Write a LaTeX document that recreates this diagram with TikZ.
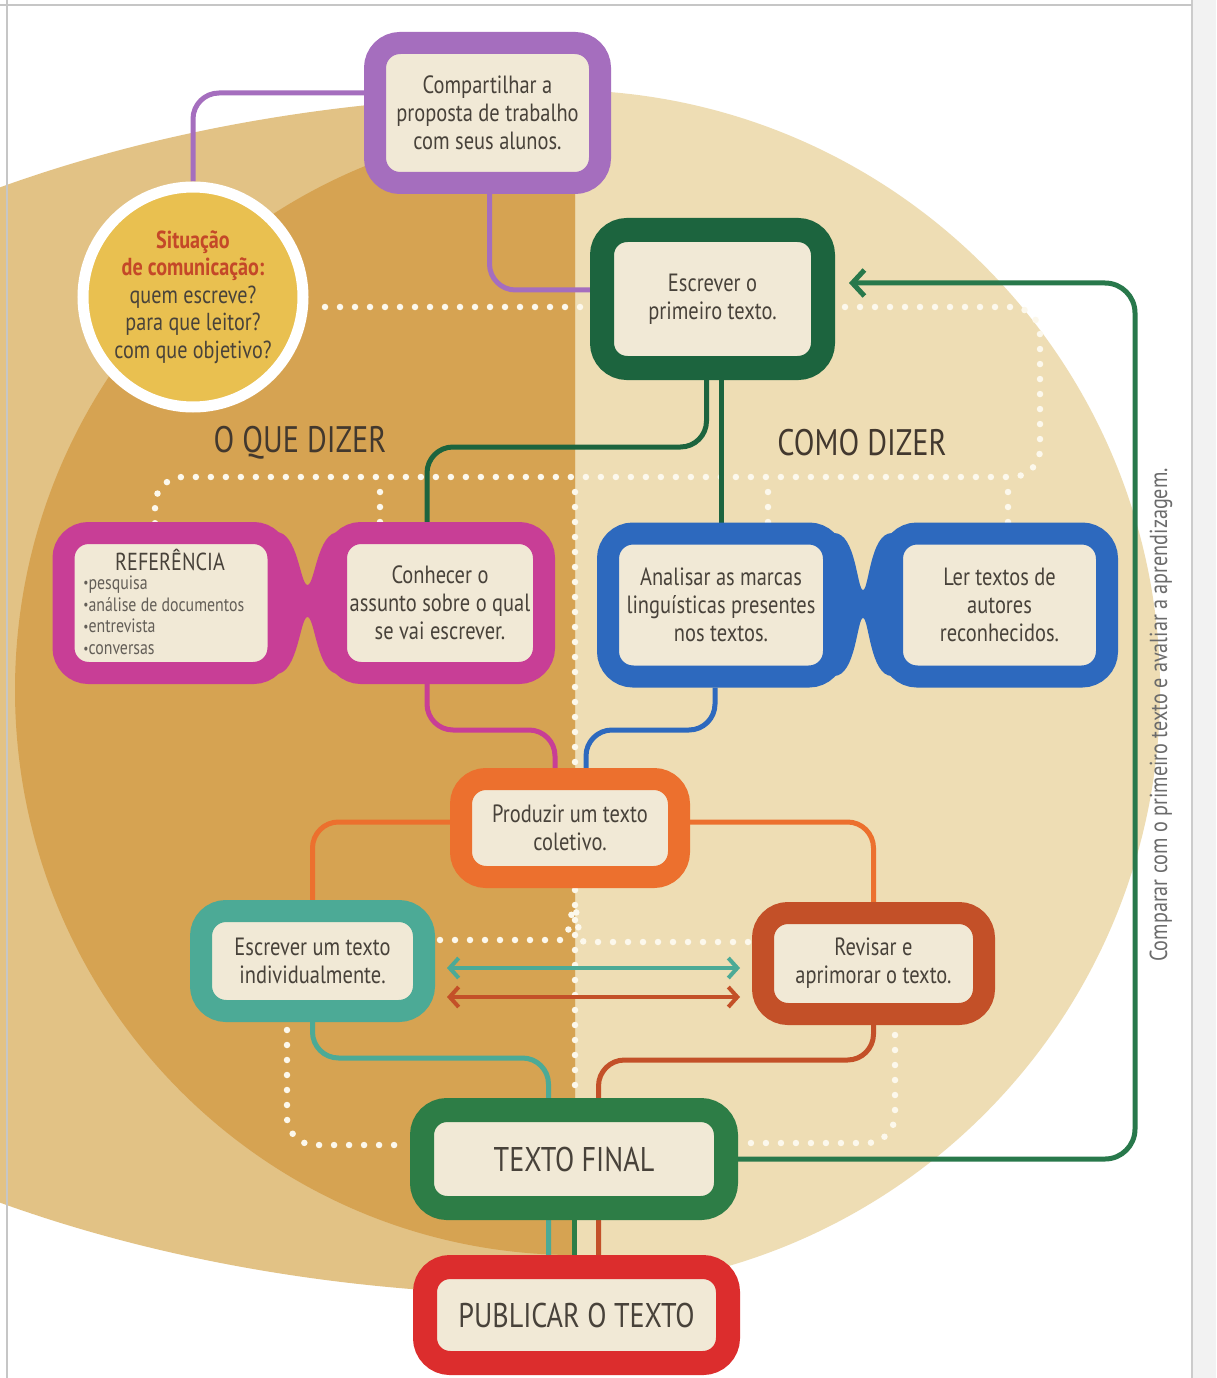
\documentclass[tikz,border=0pt]{standalone}
\usepackage{fontspec}
\setmainfont{PT Sans}[FakeStretch=0.82]
\usetikzlibrary{arrows.meta,calc}
\newlength\pxu
\setlength\pxu{0.02cm}
\definecolor{purp}{RGB}{165,110,190}
\definecolor{sity}{RGB}{233,192,80}
\definecolor{sitred}{RGB}{196,72,40}
\definecolor{dgreen}{RGB}{28,100,62}
\definecolor{mag}{RGB}{200,62,150}
\definecolor{blu}{RGB}{45,105,190}
\definecolor{ora}{RGB}{236,112,46}
\definecolor{tealc}{RGB}{76,170,150}
\definecolor{rust}{RGB}{195,80,40}
\definecolor{tfg}{RGB}{45,125,70}
\definecolor{redb}{RGB}{220,45,45}
\definecolor{lgreen}{RGB}{40,120,75}
\definecolor{cream}{RGB}{241,233,214}
\definecolor{txt}{RGB}{72,66,58}
\definecolor{ochre}{RGB}{214,163,82}
\definecolor{tanl}{RGB}{226,194,133}
\definecolor{beiger}{RGB}{238,221,180}
\definecolor{dotc}{RGB}{252,248,236}
\definecolor{hdrc}{RGB}{66,56,46}
\pgfdeclarelayer{backdrop}
\pgfdeclarelayer{lines}
\pgfsetlayers{backdrop,lines,main}
\newcommand\bxfont{\fontsize{14.2}{16}\selectfont}
\newcommand\tffont{\fontsize{19.5}{22}\selectfont}
\newcommand\hdfont{\fontsize{21}{24}\selectfont}
\newcommand\vtfont{\fontsize{14}{16}\selectfont}
\newcommand\rhfont{\fontsize{14}{16}\selectfont}
\newcommand\rifont{\fontsize{11}{12.5}\selectfont}
\newcommand\sitfont{\fontsize{14}{15.6}\selectfont}
\newcommand\sbul{\raisebox{0.8pt}{\fontsize{8}{8}\selectfont •}}
\begin{document}
\begin{tikzpicture}[x=0.02cm,y=-0.02cm,
  tbox/.style={draw=#1, line width=22\pxu, fill=cream, rounded corners=25\pxu, inner sep=0pt, align=center, text=txt, font=\bxfont},
  conn/.style={draw=#1, line width=5\pxu, rounded corners=26\pxu},
  dotline/.style={draw=dotc, line width=6.5\pxu, line cap=round, dash pattern=on 0pt off 15\pxu, rounded corners=28\pxu},
  hdr/.style={text=hdrc, font=\hdfont, inner sep=0pt},
  dbl/.style={draw=#1, line width=4\pxu, arrows={Straight Barb[length=0.18cm,width=0.4cm]-Straight Barb[length=0.18cm,width=0.4cm]}},
  bigtip/.style={-{Straight Barb[length=0.24cm,width=0.52cm]}},
]
\useasboundingbox (0,0) rectangle (1216,1378);

\begin{pgfonlayer}{backdrop}
\fill[white] (0,0) rectangle (1216,1378);
\fill[beiger] (560,690) ellipse [x radius=600, y radius=600];
\begin{scope}
\clip (0,0) rectangle (575,1378);
\fill[tanl] (560,695) ellipse [x radius=1050, y radius=600];
\fill[ochre] (575,690) ellipse [x radius=560, y radius=565];
\end{scope}
\fill[gray!10] (1192,0) rectangle (1216,1378);
\draw[gray!40, line width=2\pxu] (1192,0) -- (1192,1378);
\draw[gray!45, line width=2\pxu] (0,5) -- (1192,5);
\draw[gray!45, line width=2\pxu] (7,0) -- (7,1378);
\end{pgfonlayer}

% glasses bridges (drawn before boxes)
\fill[mag] (276,532) .. controls (298,532) and (300,585) .. (307.5,585) .. controls (315,585) and (317,532) .. (339,532) -- (339,674) .. controls (317,674) and (315,617) .. (307.5,617) .. controls (300,617) and (298,674) .. (276,674) -- cycle;
\fill[blu] (834,533) .. controls (856,533) and (857,590) .. (863,590) .. controls (869,590) and (870,533) .. (892,533) -- (892,676) .. controls (870,676) and (869,618) .. (863,618) .. controls (857,618) and (856,676) .. (834,676) -- cycle;

% nodes
\node[tbox=purp, minimum width=225\pxu, minimum height=140\pxu] (comp) at (487.5,113) {Compartilhar a\\proposta de trabalho\\com seus alunos.};
\node[circle, draw=white, line width=11\pxu, fill=sity, minimum size=220\pxu, inner sep=0pt, align=center, font=\sitfont, text=txt] (sit) at (193,297)
  {\textcolor{sitred}{\textbf{Situação}}\\\textcolor{sitred}{\textbf{de comunicação:}}\\quem escreve?\\para que leitor?\\com que objetivo?};
\node[tbox=dgreen, line width=24\pxu, minimum width=221\pxu, minimum height=138\pxu] (esc1) at (712.5,299) {Escrever o\\primeiro texto.};
\node[tbox=mag, minimum width=215\pxu, minimum height=140\pxu] (ref) at (171,603) {};
\node[text=txt, font=\rhfont, inner sep=0pt] (refhead) at (170,560) {REFERÊNCIA};
\node[anchor=north west, align=left, font=\rifont, text=txt!85, inner sep=0pt] (refitems) at (83,575) {\sbul pesquisa\\\sbul análise de documentos\\\sbul entrevista\\\sbul conversas};
\node[tbox=mag, minimum width=208\pxu, minimum height=140\pxu] (con) at (440,603) {Conhecer o\\assunto sobre o qual\\se vai escrever.};
\node[tbox=blu, minimum width=226\pxu, minimum height=143\pxu] (ana) at (721,605) {Analisar as marcas\\linguísticas presentes\\nos textos.};
\node[tbox=blu, minimum width=215\pxu, minimum height=143\pxu] (ler) at (999.5,605) {Ler textos de\\autores\\reconhecidos.};
\node[tbox=ora, minimum width=218\pxu, minimum height=98\pxu] (prod) at (570,828) {Produzir um texto\\coletivo.};
\node[tbox=tealc, minimum width=223\pxu, minimum height=100\pxu] (ind) at (312.5,961) {Escrever um texto\\individualmente.};
\node[tbox=rust, minimum width=221\pxu, minimum height=101\pxu] (rev) at (873.5,963.5) {Revisar e\\aprimorar o texto.};
\node[tbox=tfg, line width=24\pxu, minimum width=304\pxu, minimum height=98\pxu, font=\tffont] (tf) at (574,1159) {TEXTO FINAL};
\node[tbox=redb, line width=24\pxu, minimum width=303\pxu, minimum height=96\pxu, font=\tffont] (pub) at (576.5,1315) {PUBLICAR O TEXTO};

\node[hdr] (oq) at (300,443) {O QUE DIZER};
\node[hdr] (cd) at (862,443) {COMO DIZER};
\node[rotate=90, text=black!58, font=\vtfont, inner sep=0pt] (cmp) at (1161,715) {Comparar com o primeiro texto e avaliar a aprendizagem.};

\begin{pgfonlayer}{lines}
% dotted guide lines
\draw[dotline] (325,307) -- (592,307);
\draw[dotline] (845,307) -- (1040,307) -- (1040,477) -- (155,477) -- (155,525);
\draw[dotline] (380,492) -- (380,525);
\draw[dotline] (768,492) -- (768,525);
\draw[dotline] (1008,492) -- (1008,525);
\draw[dotline] (575,492) -- (575,770);
\draw[dotline] (575,890) -- (575,1098);
\draw[dotline] (440,940) -- (535,940) .. controls (565,940) and (572,925) .. (572,905);
\draw[dotline] (748,942) -- (612,942) .. controls (582,942) and (576,925) .. (576,905);
\draw[dotline] (287,1030) -- (287,1145) -- (405,1145);
\draw[dotline] (895,1035) -- (895,1143) -- (745,1143);

% connectors
\draw[conn=purp] ([yshift=20\pxu]comp.west) -| (sit.north);
\draw[conn=purp] ([xshift=2\pxu]comp.south) |- ([yshift=9\pxu]esc1.west);
\coordinate (gmid) at (600,447);
\draw[conn=dgreen] ([xshift=-6\pxu]esc1.south) |- (gmid) -| ([xshift=-13\pxu]con.north);
\draw[conn=dgreen] (ana.north |- esc1.south) -- (ana.north);
\coordinate (mm) at (490,730);
\draw[conn=mag] ([xshift=-13\pxu]con.south) |- (mm) -| ([xshift=-15\pxu]prod.north);
\coordinate (bm) at (650,730);
\draw[conn=blu] ([xshift=-6\pxu]ana.south) |- (bm) -| ([xshift=16\pxu]prod.north);
\draw[conn=ora] ([yshift=6\pxu]prod.west) -| (ind.north);
\draw[conn=ora] ([yshift=6\pxu]prod.east) -| (rev.north);
\coordinate (tm) at (450,1058);
\draw[conn=tealc] (ind.south) |- (tm) -| ([xshift=-28\pxu]pub.north);
\coordinate (rm) at (700,1060);
\draw[conn=rust] (rev.south) |- (rm) -| ([xshift=22\pxu]pub.north);
\draw[conn=tfg] (tf.south) -- (tf.south |- pub.north);
\coordinate (gc) at (1135,700);
\coordinate (escIn) at ($(esc1.east)+(14,-16)$);
\draw[conn=lgreen, rounded corners=0.6cm, bigtip] (tf.east) -| (gc) |- (escIn);
\draw[dbl=tealc] ($(ind.east)+(12,7)$) -- ($(ind.east -| rev.west)+(-12,7)$);
\draw[dbl=rust] ($(ind.east)+(12,36)$) -- ($(ind.east -| rev.west)+(-12,36)$);
\end{pgfonlayer}
\end{tikzpicture}
\end{document}
